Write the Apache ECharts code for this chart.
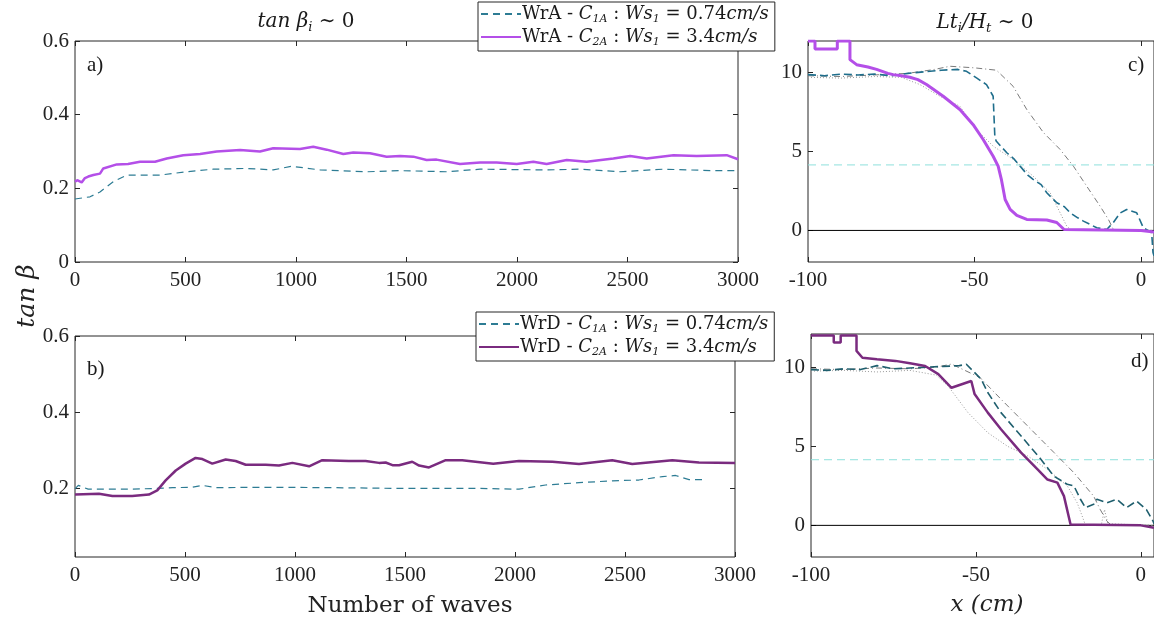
<!DOCTYPE html>
<html><head><meta charset="utf-8">
<script src="https://cdn.jsdelivr.net/npm/echarts@6/dist/echarts.min.js"></script>
<style>html,body{margin:0;padding:0;background:#fff}#c{width:1154px;height:624px}</style>
</head><body><div id="c"></div>
<script>
// ---------- Data ----------
// Panel a (WrA), x = number of waves
const aC2x = [0,10,18,30,45,60,83,113,128,189,240,294,362,415,490,566,641,747,837,897,1018,1078,1139,1214,1259,1335,1410,1471,1531,1591,1636,1742,1833,1908,1999,2074,2134,2225,2315,2436,2512,2587,2708,2813,2949,3000];
const aC2y = [0.218,0.222,0.225,0.216,0.228,0.232,0.236,0.24,0.254,0.265,0.266,0.272,0.272,0.281,0.29,0.293,0.3,0.304,0.3,0.309,0.307,0.313,0.305,0.293,0.297,0.295,0.286,0.288,0.286,0.277,0.278,0.266,0.27,0.27,0.266,0.272,0.266,0.277,0.272,0.281,0.288,0.281,0.29,0.288,0.29,0.279];
const aC1x = [0,68,113,173,234,385,505,626,777,897,980,1109,1320,1471,1682,1833,2134,2285,2466,2662,2888,3000];
const aC1y = [0.171,0.177,0.19,0.218,0.236,0.236,0.245,0.252,0.254,0.25,0.26,0.25,0.245,0.248,0.245,0.252,0.25,0.252,0.245,0.252,0.248,0.248];
// Panel b (WrD)
const bC2x = [0,109,170,260,336,374,412,458,503,548,579,624,685,730,776,867,927,988,1064,1124,1245,1321,1382,1412,1443,1473,1533,1564,1609,1685,1760,1901,2018,2170,2291,2442,2533,2715,2836,3000];
const bC2y = [0.184,0.186,0.18,0.18,0.184,0.195,0.221,0.247,0.265,0.28,0.277,0.265,0.276,0.272,0.262,0.262,0.26,0.267,0.258,0.274,0.272,0.272,0.267,0.268,0.261,0.261,0.27,0.26,0.255,0.274,0.274,0.265,0.272,0.27,0.264,0.274,0.264,0.274,0.268,0.267];
const bC1x = [0,15,60,260,367,443,533,579,640,867,1170,1473,1836,2018,2139,2291,2442,2563,2670,2730,2791,2851];
const bC1y = [0.199,0.208,0.198,0.198,0.2,0.202,0.203,0.208,0.202,0.203,0.202,0.2,0.2,0.198,0.209,0.215,0.22,0.222,0.231,0.234,0.223,0.223];
// Panel c profiles (x in cm)
const cC2x = [-100,-97.9,-97.9,-91.2,-91.2,-87.4,-87.4,-85.4,-82,-79.4,-76,-74.4,-72,-69.4,-67,-64.4,-59.4,-54.4,-50.4,-47.4,-44.4,-42.9,-41.9,-40.8,-39.3,-37.3,-34.3,-28.3,-25.3,-23.1,0,3.9];
const cC2y = [12,12,11.5,11.5,12,12,10.82,10.5,10.35,10.2,9.95,9.87,9.8,9.7,9.55,9.24,8.5,7.66,6.7,5.76,4.7,4.07,3.2,1.96,1.33,0.95,0.7,0.66,0.5,0.06,0,-0.1];
const cC1x = [-100,-95,-90,-85,-80,-75,-70,-65,-60,-55,-52.4,-49.4,-46.4,-44.4,-43.9,-43.5,-40.3,-38,-36.3,-34,-32.4,-30,-28.3,-25.3,-23,-21.3,-19,-17.3,-15,-13.3,-10.3,-8.3,-6.3,-4.3,-1.3,0.7,3.2,3.6,3.9];
const cC1y = [9.87,9.8,9.9,9.85,9.9,9.8,9.95,10.05,10.15,10.2,10.08,9.66,9.24,8.5,5.97,5.66,4.92,4.5,4.07,3.5,3.23,2.9,2.39,1.75,1.5,1.12,0.8,0.59,0.35,0.17,0.06,0.5,1.1,1.33,1.12,0.17,-0.15,-1.4,-1.6];
const cDDx = [-100,-90,-80,-70,-62,-57.4,-50,-43.4,-38.4,-34.3,-29.3,-24.3,-20.3,-16.3,-12.3,-9.8,-8.3,3.9];
const cDDy = [9.8,9.75,9.85,9.95,10.2,10.4,10.3,10.15,9.13,7.66,6.2,5.13,4.07,2.8,1.54,0.7,0.06,0];
const cDTx = [-100,-90,-80,-72,-66.4,-60.4,-54.4,-49.4,-44.4,-38.4,-32.4,-27.3,-24.3,-22.3,-21,3.9];
const cDTy = [9.7,9.65,9.75,9.7,9.24,8.5,7.87,6.39,5.34,4.5,3.44,2.39,1.12,0.27,0.02,0];
// Panel d profiles
const dC2x = [-100,-93.1,-93.1,-91,-91,-86.2,-86.2,-84.4,-80,-74.4,-70,-65.4,-61.4,-57.4,-51.4,-50.4,-46.4,-42.4,-36.3,-31.3,-28.3,-25.3,-23.3,-21.3,0,4];
const dC2y = [12,12,11.56,11.56,12,12,11.03,10.6,10.5,10.4,10.25,10.08,9.56,8.7,9.13,8.3,7.13,6.08,4.6,3.54,2.9,2.7,1.85,0.06,0,-0.15];
const dC1x = [-100,-95,-90,-85,-80,-75,-70,-65,-60,-55,-52.9,-48.4,-46.4,-42.4,-36.3,-30.3,-26.3,-22.3,-20.3,-18.3,-16.8,-14.3,-13.3,-10.3,-7.3,-4.3,-1.3,1.7,3.7,4];
const dC1y = [9.85,9.8,9.9,9.85,10.1,9.9,9.95,10,10.05,10.1,10.19,9.24,8.4,7.13,5.65,4.18,3.1,2.6,2.5,1.65,1.12,1.33,1.65,1.43,1.65,1.12,1.54,1,0.27,0.1];
const dDDx = [-100,-90,-80,-70,-62,-57.4,-48.8,-42.4,-34.3,-26.3,-20.3,-14.3,-12.3,-10.3,-9,4];
const dDDy = [9.9,9.85,9.95,9.9,10,10.2,9.35,7.98,6.28,4.6,3.33,1.85,1,0.27,0.02,0];
const dDTx = [-100,-90,-80,-70,-62,-58.4,-52.4,-46.4,-40.4,-34.3,-28.3,-22.3,-19.3,-17.8,-16.8,-12,-11,-10,4];
const dDTy = [9.75,9.8,9.7,9.8,9.5,8.8,7.13,5.86,5,4.39,3.54,2.5,1.43,0.6,0.02,0.02,1,0.1,0];
const waterLevel = 4.15;
// Tick labels
const xTicksWaves = [0,500,1000,1500,2000,2500,3000];
const yTicksA = [0,0.2,0.4,0.6];
const yTicksB = [0.2,0.4,0.6];
const xTicksCm = [-100,-50,0];
const yTicksCm = [0,5,10];

// ---------- Helpers ----------
const zip = (xs, ys) => xs.map((x, i) => [x, ys[i]]);
const AX = '#262626';
const SERIF = 'Liberation Serif';
const DSERIF = 'DejaVu Serif';
const labelStyle = {fontFamily: SERIF, fontSize: 21, color: '#222', formatter: v => String(v)};

function xAx(grid, min, max, ticks, pos, show) {
  return {type:'value', gridIndex:grid, min:min, max:max, position:pos,
    axisLine:{show:false, onZero:false}, splitLine:{show:false},
    axisTick:{show:true, inside:true, length:5, lineStyle:{color:AX}, customValues:ticks},
    axisLabel:Object.assign({show:show, margin:8, customValues:ticks}, labelStyle)};
}
function yAx(grid, min, max, ticks, pos, show) {
  return {type:'value', gridIndex:grid, min:min, max:max, position:pos,
    axisLine:{show:false, onZero:false}, splitLine:{show:false},
    axisTick:{show:true, inside:true, length:5, lineStyle:{color:AX}, customValues:ticks},
    axisLabel:Object.assign({show:show, margin:6, customValues:ticks}, labelStyle)};
}
function line(name, xi, yi, data, color, width, type, z) {
  return {name:name, type:'line', xAxisIndex:xi, yAxisIndex:yi, data:data,
    symbol:'none', showSymbol:false, animation:false, z:z||2,
    lineStyle:{color:color, width:width, type:type||'solid'}, itemStyle:{color:color}};
}

const PURPLE = '#b44fe8', DPURPLE = '#7a2b7f', TEAL = '#2d7c94', CTEAL = '#1f6e8c';
const rich = {
  n:{fontFamily:DSERIF, fontSize:18, color:'#1a1a1a', lineHeight:22},
  i:{fontFamily:DSERIF, fontStyle:'italic', fontSize:18, color:'#1a1a1a', lineHeight:22},
  s:{fontFamily:DSERIF, fontStyle:'italic', fontSize:11, color:'#1a1a1a', lineHeight:12, verticalAlign:'bottom'}
};
const richT = {
  n:{fontFamily:DSERIF, fontSize:20, color:'#1a1a1a', lineHeight:24},
  i:{fontFamily:DSERIF, fontStyle:'italic', fontSize:20, color:'#1a1a1a', lineHeight:24},
  s:{fontFamily:DSERIF, fontStyle:'italic', fontSize:13, color:'#1a1a1a', lineHeight:13, verticalAlign:'bottom'},
  p:{fontFamily:SERIF, fontSize:21, color:'#1a1a1a', lineHeight:24}
};
const legendNames = {
  'WrA1':'{n|WrA - }{i|C}{s|1A}{n| : }{i|Ws}{s|1}{n| = 0.74}{i|cm/s}',
  'WrA2':'{n|WrA - }{i|C}{s|2A}{n| : }{i|Ws}{s|1}{n| = 3.4}{i|cm/s}',
  'WrD1':'{n|WrD - }{i|C}{s|1A}{n| : }{i|Ws}{s|1}{n| = 0.74}{i|cm/s}',
  'WrD2':'{n|WrD - }{i|C}{s|2A}{n| : }{i|Ws}{s|1}{n| = 3.4}{i|cm/s}'
};
function legend(names, left, top) {
  return {data:names, left:left, top:top, orient:'vertical', itemGap:3, itemWidth:40, itemHeight:12,
    padding:[3,6,3,2], backgroundColor:'#fff', borderColor:AX, borderWidth:1, borderRadius:0,
    selectedMode:false, z:10, itemStyle:{opacity:0},
    formatter:n => legendNames[n], textStyle:{rich:rich, padding:[0,0,0,-4]}};
}
function label(text, left, top, align) {
  return {text:text, left:left, top:top, textAlign:align||'left',
    textStyle:{rich:richT, fontFamily:DSERIF, fontSize:20, fontWeight:'normal', color:'#1a1a1a'}};
}

const chart = echarts.init(document.getElementById('c'), null, {renderer:'canvas'});
chart.setOption({
  backgroundColor:'#fff',
  animation:false,
  grid:[
    {left:75, top:41, width:663, height:221, show:true, borderColor:AX, borderWidth:1, backgroundColor:'transparent'},
    {left:75, top:336, width:660, height:221, show:true, borderColor:AX, borderWidth:1, backgroundColor:'transparent'},
    {left:808, top:41, width:346, height:221, show:true, borderColor:AX, borderWidth:1, backgroundColor:'transparent'},
    {left:811, top:334, width:343, height:223, show:true, borderColor:AX, borderWidth:1, backgroundColor:'transparent'}
  ],
  xAxis:[
    xAx(0, 0, 3000, xTicksWaves, 'bottom', true),
    xAx(1, 0, 3000, xTicksWaves, 'bottom', true),
    xAx(2, -100, 3.9, xTicksCm, 'bottom', true),
    xAx(3, -100, 4, xTicksCm, 'bottom', true),
    xAx(0, 0, 3000, xTicksWaves, 'top', false),
    xAx(1, 0, 3000, xTicksWaves, 'top', false),
    xAx(2, -100, 3.9, xTicksCm, 'top', false),
    xAx(3, -100, 4, xTicksCm, 'top', false)
  ],
  yAxis:[
    yAx(0, 0, 0.6, yTicksA, 'left', true),
    yAx(1, 0.02, 0.6, yTicksB, 'left', true),
    yAx(2, -2, 12, yTicksCm, 'left', true),
    yAx(3, -2, 12.1, yTicksCm, 'left', true),
    yAx(0, 0, 0.6, yTicksA, 'right', false),
    yAx(1, 0.02, 0.6, yTicksB, 'right', false)
  ],
  legend:[legend(['WrA1','WrA2'], 478, 2), legend(['WrD1','WrD2'], 476, 312)],
  title:[
    label('{i|tan β}{s|i}{n| ∼ 0}', 301, 5, 'center'),
    label('{i|Lt}{s|i}{i|/H}{s|t}{n| ∼ 0}', 980, 6, 'center'),
    label('{p|a)}', 82, 48),
    label('{p|b)}', 82, 352),
    label('{p|c)}', 1123, 48),
    label('{p|d)}', 1126, 344),
    {text:'Number of waves', left:405, top:590, textAlign:'center',
      textStyle:{fontFamily:DSERIF, fontSize:23, fontWeight:'normal', color:'#222'}},
    {text:'x (cm)', left:982, top:589, textAlign:'center',
      textStyle:{fontFamily:DSERIF, fontStyle:'italic', fontSize:23, fontWeight:'normal', color:'#222'}}
  ],
  graphic:[
    {type:'text', x:27, y:296, rotation:Math.PI/2, z:10,
      style:{text:'tan β', font:'italic 25px "DejaVu Serif"', fill:'#222', align:'center', verticalAlign:'middle'}}
  ],
  series:[
    line('WrA1', 0, 0, zip(aC1x, aC1y), TEAL, 1.2, [7,5]),
    line('WrA2', 0, 0, zip(aC2x, aC2y), PURPLE, 2.5),
    line('WrD1', 1, 1, zip(bC1x, bC1y), TEAL, 1.2, [7,5]),
    line('WrD2', 1, 1, zip(bC2x, bC2y), DPURPLE, 2.5),
    // panel c
    line('c-zero', 2, 2, [[-100,0],[3.9,0]], '#000', 1),
    line('c-wl', 2, 2, [[-100,waterLevel],[3.9,waterLevel]], '#8fe0dc', 1, [8,5]),
    line('c-dot', 2, 2, zip(cDTx, cDTy), '#9a9a9a', 1, [1,2]),
    line('c-dashdot', 2, 2, zip(cDDx, cDDy), '#7a7a7a', 1, [6,3,1,3]),
    line('c-C1', 2, 2, zip(cC1x, cC1y), CTEAL, 1.6, [8,4]),
    line('c-C2', 2, 2, zip(cC2x, cC2y), PURPLE, 3, 'solid', 3),
    // panel d
    line('d-zero', 3, 3, [[-100,0],[4,0]], '#000', 1),
    line('d-wl', 3, 3, [[-100,waterLevel],[4,waterLevel]], '#8fe0dc', 1, [8,5]),
    line('d-dot', 3, 3, zip(dDTx, dDTy), '#9a9a9a', 1, [1,2]),
    line('d-dashdot', 3, 3, zip(dDDx, dDDy), '#7a7a7a', 1, [6,3,1,3]),
    line('d-C1', 3, 3, zip(dC1x, dC1y), '#1f5f6e', 1.6, [8,4]),
    line('d-C2', 3, 3, zip(dC2x, dC2y), DPURPLE, 2.5, 'solid', 3)
  ]
});
</script></body></html>
